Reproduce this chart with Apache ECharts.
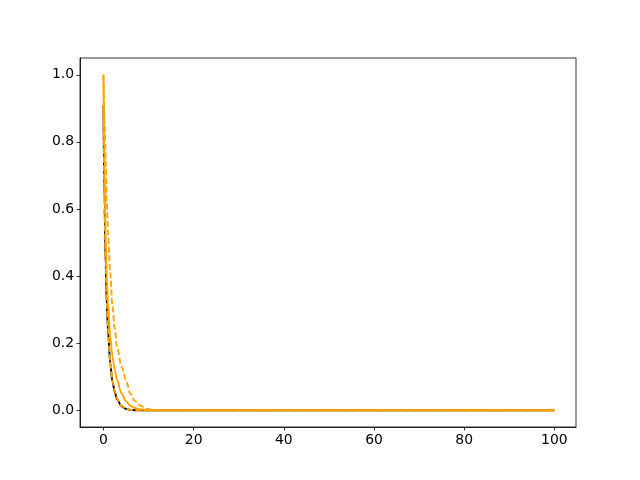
<!DOCTYPE html>
<html>
<head>
<meta charset="utf-8">
<script src="https://cdn.jsdelivr.net/npm/echarts@6/dist/echarts.min.js"></script>
<style>
  html, body { margin: 0; padding: 0; background: #fff; }
  #main { width: 640px; height: 480px; }
</style>
</head>
<body>
<div id="main"></div>
<script>
// x samples shared by all curves
const xs = [0, 0.25, 0.5, 0.75, 1, 1.5, 2, 2.5, 3, 4, 5, 6, 7, 8, 10, 12, 15, 20, 30, 40, 50, 60, 70, 80, 90, 100];

// black solid curve (starts near 0.91)
const blackVals = [0.91, 0.6, 0.43, 0.31, 0.24, 0.14, 0.085, 0.055, 0.033, 0.012, 0.004, 0.001, 0, 0, 0, 0, 0, 0, 0, 0, 0, 0, 0, 0, 0, 0];
// orange dashed lying on the black one
const orangeFitVals = [0.91, 0.61, 0.44, 0.32, 0.25, 0.145, 0.088, 0.057, 0.035, 0.013, 0.005, 0.001, 0, 0, 0, 0, 0, 0, 0, 0, 0, 0, 0, 0, 0, 0];
// orange solid curve
const orangeSolidVals = [1.0, 0.72, 0.51, 0.4, 0.32, 0.22, 0.16, 0.12, 0.09, 0.05, 0.027, 0.013, 0.007, 0.003, 0, 0, 0, 0, 0, 0, 0, 0, 0, 0, 0, 0];
// orange dashed, slowest decay
const orangeDashVals = [1.0, 0.86, 0.74, 0.62, 0.53, 0.41, 0.31, 0.245, 0.19, 0.13, 0.09, 0.048, 0.028, 0.015, 0.003, 0, 0, 0, 0, 0, 0, 0, 0, 0, 0, 0];

const xTicks = [0, 20, 40, 60, 80, 100];
const yTicks = [0, 0.2, 0.4, 0.6, 0.8, 1.0];

function pairs(vals) {
  return xs.map((x, i) => [x, vals[i]]);
}

function makeSeries(vals, color, dashed, z) {
  return {
    type: 'line',
    data: pairs(vals),
    showSymbol: false,
    smooth: 0.3,
    smoothMonotone: 'x',
    z: z,
    lineStyle: {
      color: color,
      width: 1.9,
      type: dashed ? [6, 2.6] : 'solid',
      cap: 'butt'
    }
  };
}

const chart = echarts.init(document.getElementById('main'), null, { renderer: 'canvas' });

const axisFont = { fontFamily: 'DejaVu Sans', fontSize: 13.9, color: '#000' };

chart.setOption({
  animation: false,
  backgroundColor: '#fff',
  grid: {
    left: 80, right: 64, top: 58, bottom: 53,
    show: true, borderColor: '#000', borderWidth: 0.8,
    containLabel: false
  },
  xAxis: {
    type: 'value',
    min: -5.2, max: 104.8,
    splitLine: { show: false },
    axisLine: { show: true, onZero: false, lineStyle: { color: '#000', width: 0.8 } },
    axisTick: { show: true, customValues: xTicks, length: 3.5, lineStyle: { color: '#000', width: 0.8 } },
    axisLabel: Object.assign({ customValues: xTicks, margin: 6 }, axisFont)
  },
  yAxis: {
    type: 'value',
    min: -0.05, max: 1.05,
    splitLine: { show: false },
    axisLine: { show: true, onZero: false, lineStyle: { color: '#000', width: 0.8 } },
    axisTick: { show: true, customValues: yTicks, length: 3.5, lineStyle: { color: '#000', width: 0.8 } },
    axisLabel: Object.assign({ customValues: yTicks, margin: 6, formatter: v => v.toFixed(1) }, axisFont)
  },
  series: [
    makeSeries(blackVals, '#000000', false, 1),
    makeSeries(orangeFitVals, '#ffa500', true, 2),
    makeSeries(orangeSolidVals, '#ffa500', false, 3),
    makeSeries(orangeDashVals, '#ffa500', true, 4)
  ]
});
</script>
</body>
</html>
